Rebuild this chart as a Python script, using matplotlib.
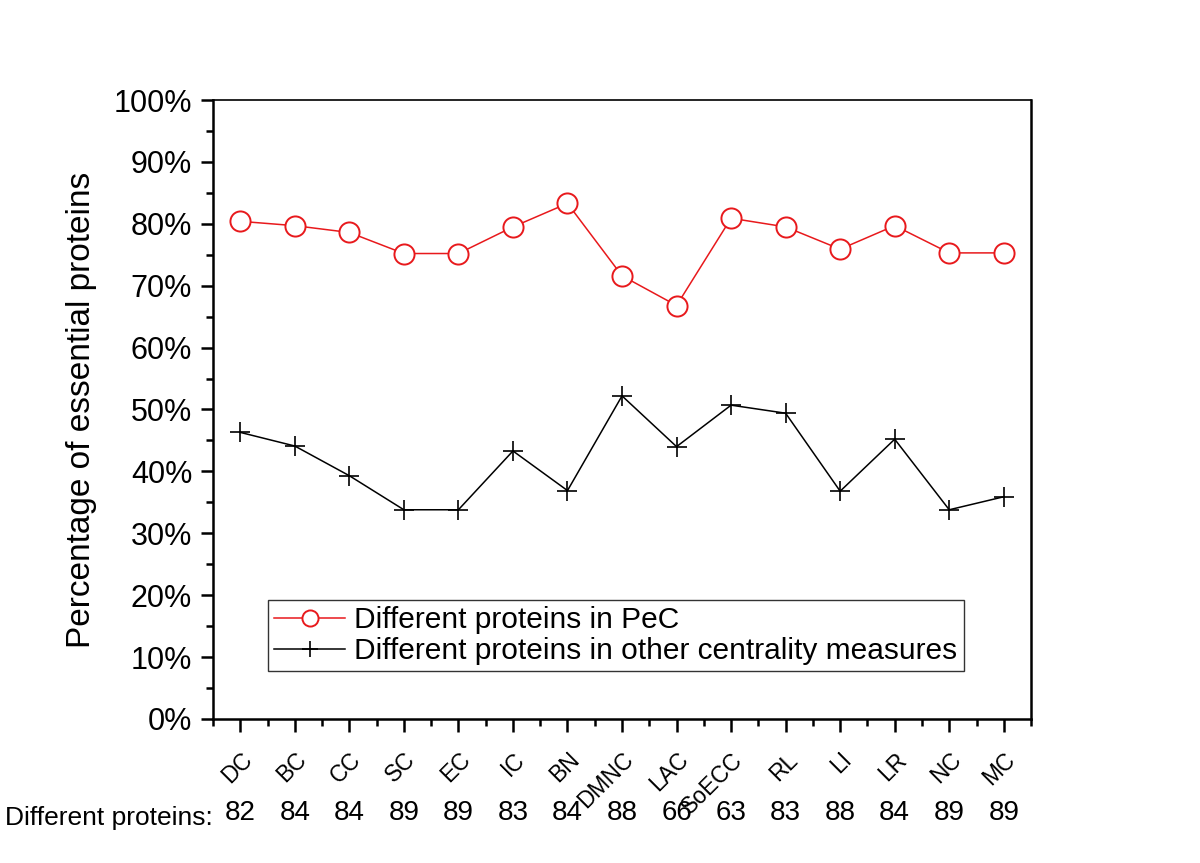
import matplotlib
matplotlib.use("Agg")
import matplotlib.pyplot as plt
from matplotlib.ticker import MultipleLocator, FuncFormatter
import matplotlib.transforms as mtransforms

plt.rcParams["font.family"] = ["Liberation Sans", "DejaVu Sans"]

# data
measures = ["DC", "BC", "CC", "SC", "EC", "IC", "BN", "DMNC", "LAC",
            "SoECC", "RL", "LI", "LR", "NC", "MC"]
pec_pct = [80.4, 79.7, 78.6, 75.2, 75.2, 79.5, 83.3, 71.6, 66.8,
           80.9, 79.5, 75.9, 79.7, 75.3, 75.3]
other_pct = [46.3, 44.1, 39.3, 33.8, 33.8, 43.3, 36.9, 52.2, 44.0,
             50.7, 49.4, 36.8, 45.2, 33.8, 35.9]
diff_counts = [82, 84, 84, 89, 89, 83, 84, 88, 66, 63, 83, 88, 84, 89, 89]

fig = plt.figure(figsize=(12, 8.63), dpi=100)
ax = fig.add_axes([0.1775, 0.1669, 0.6817, 0.7172])

x = list(range(len(measures)))
ax.plot(x, pec_pct, color="#e8191c", lw=1.1, marker="o", ms=14.5,
        mfc="white", mec="#e8191c", mew=1.4, label="Different proteins in PeC")
ax.plot(x, other_pct, color="black", lw=1.1, marker="+", ms=15, mew=1.2,
        label="Different proteins in other centrality measures")

ax.set_xlim(-0.5, len(measures) - 0.5)
ax.set_ylim(0, 100)

ax.yaxis.set_major_locator(MultipleLocator(10))
ax.yaxis.set_minor_locator(MultipleLocator(5))
ax.yaxis.set_major_formatter(FuncFormatter(lambda v, p: f"{int(v)}%"))
ax.set_xticks(x)
ax.set_xticks([i + 0.5 for i in x[:-1]] + [-0.5, len(measures) - 0.5], minor=True)
ax.set_xticklabels(measures, rotation=45, ha="right", rotation_mode="anchor")

ax.tick_params(axis="both", which="major", direction="out", length=9, width=1.8,
               labelsize=22, pad=6)
ax.tick_params(axis="both", which="minor", direction="out", length=5, width=1.8)
ax.tick_params(axis="x", which="major", labelsize=16.5, pad=12)
ax.tick_params(right=False, top=False, which="both")
for s in ax.spines.values():
    s.set_linewidth(1.8)
ax.spines["top"].set_linewidth(1.2)

ax.set_ylabel("Percentage of essential proteins", fontsize=24, labelpad=12)

leg = ax.legend(loc="lower left", bbox_to_anchor=(0.067, 0.0775),
                borderaxespad=0, frameon=True, fancybox=False, fontsize=21.5,
                edgecolor="black", handlelength=2.4, handletextpad=0.3,
                borderpad=0.2, labelspacing=0.1, markerscale=0.8)
leg.get_frame().set_linewidth(1.0)

# "Different proteins" counts beneath the categories
trans = mtransforms.blended_transform_factory(ax.transData, fig.transFigure)
fig.text(5 / 1200, 1 - 818 / 863, "Different proteins:", fontsize=19,
         ha="left", va="center")
for xi, n in zip(x, diff_counts):
    ax.text(xi, 1 - 813 / 863, str(n), transform=trans, fontsize=20,
            ha="center", va="center")

fig.savefig("out.png", dpi=100)
